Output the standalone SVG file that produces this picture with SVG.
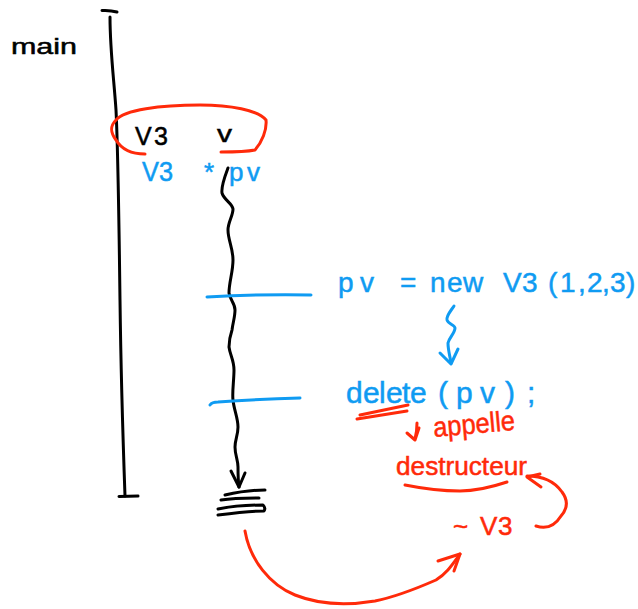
<svg xmlns="http://www.w3.org/2000/svg" width="638" height="609" viewBox="0 0 638 609">
<style>
.s{fill:none;stroke-width:3;stroke-linecap:round;stroke-linejoin:round}
.k{stroke:#000}.b{stroke:#0f9bf2}.r{stroke:#ff2a0a}
text{font-family:"Liberation Sans","DejaVu Sans",sans-serif;stroke-width:.5}
.tk{fill:#000;stroke:#000}.tb{fill:#0f9bf2;stroke:#0f9bf2}.tr{fill:#ff2a0a;stroke:#ff2a0a}
</style>
<rect width="638" height="609" fill="#fff"/>
<g id="connectors">
<path class="s k" d="M102 10.500Q110 10 117 12"/>
<path class="s k" d="M110 17C110 50 114 80 116 110C118 150 119 220 120 300C121 380 123 440 125 496"/>
<path class="s k" d="M119 496.500L138 496"/>
<path class="s r" d="M145 154C132 154 122 150 116 140C110 132 110 126 116 120C124 110 160 105 200 105C230 105 258 110 266 120C267 130 262 142 255 150C245 152 232 152 221 152"/>
<path class="s k" d="M228 168C225 176 221 186 222 193C224 200 232 203 233 209C233 216 228 222 228 230C228 240 233 248 233 260C233 272 229 282 229 293C230 300 235 303 235 310C235 317 233 322 232 330C230 336 229 341 229 347C230 355 234 360 234 370C234 380 232 392 233 400C234 410 238 418 238 427C238 435 235 440 235 447C235 455 238 460 238 467C238 474 238 480 239 487"/>
<path class="s k" d="M231 471L239 487L245 473"/>
<path class="s k" d="M225 495C238 492 252 490 265 490"/>
<path class="s k" d="M221 500C234 498 247 498 259 498"/>
<path class="s k" d="M218 509C233 506 250 505 263 505Q266 508 264 511C250 511 234 513 218 515"/>
<path class="s b" d="M207 297Q260 294 311 295"/>
<path class="s b" d="M210 405Q212 402 218 402Q260 399 300 398"/>
<path class="s b" d="M454 306C450 312 446 316 447 320C448 324 455 325 455 328C455 333 449 338 448 343C448 350 450 356 451 363"/>
<path class="s b" d="M440 353L451 364L458 349"/>
<path class="s r" d="M360 415L408 405"/>
<path class="s r" d="M357 419L407 411"/>
<path class="s r" d="M417 423Q417 432 415 439M407 433L415 440L419 428"/>
<path class="s r" d="M405 485C425 489 445 491 460 491C478 491 492 487 507 482"/>
<path class="s r" d="M245 531C250 560 270 585 295 595C320 605 345 606 375 601C395 597 420 587 436 580C447 573 452 565 460 554"/>
<path class="s r" d="M438 561L460 554L454 571"/>
<path class="s r" d="M536 526C548 530 556 524 561 516C568 508 568 500 562 492C555 482 545 476 527 476"/>
<path class="s r" d="M540 474L527 477L541 487"/>
</g>
<g id="main"><text class="tk" x="11" y="54" font-size="22" textLength="66" lengthAdjust="spacingAndGlyphs">main</text></g>
<g id="stack-v3"><text class="tk" x="135" y="145" font-size="25" textLength="33">V3</text></g>
<g id="stack-v"><text class="tk" x="217" y="142" font-size="24" textLength="15" lengthAdjust="spacingAndGlyphs">v</text></g>
<g id="type-v3"><text class="tb" x="142" y="181" font-size="27" textLength="31" lengthAdjust="spacingAndGlyphs">V3</text></g>
<g id="type-pv"><text class="tb" x="204 229 247" y="181" font-size="26">*pv</text></g>
<g id="new"><text class="tb" x="338 360 378 400 418 430 447 463 485 503 522 548 560 578 587 602 610 626" y="292" font-size="28">pv = new V3(1,2,3)</text></g>
<g id="delete"><text class="tb" x="346 363 379 386 402 410 428 438 456 480 505 520 527" y="403" font-size="30">delete (pv) ;</text></g>
<g id="appelle"><text class="tr" x="434" y="437" font-size="28" textLength="82" lengthAdjust="spacingAndGlyphs" transform="rotate(-5 434 437)">appelle</text></g>
<g id="destructeur"><text class="tr" x="396" y="475" font-size="25" textLength="131" lengthAdjust="spacingAndGlyphs">destructeur</text></g>
<g id="tilde-v3"><text class="tr" x="453 480 498" y="535" font-size="26">~V3</text></g>
</svg>
